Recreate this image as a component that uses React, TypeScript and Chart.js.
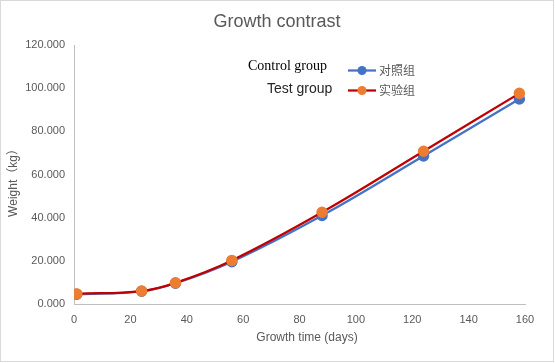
import React, { useEffect, useRef } from "react";
import { Chart, registerables } from "chart.js";

Chart.register(...registerables);

const chartTitle = "Growth contrast";
const xAxisTitle = "Growth time (days)";
const yAxisTitle = "Weight（kg）";
const days = [1, 24, 36, 56, 88, 124, 158];
const controlValues = [4.5, 5.9, 9.6, 19.6, 41.0, 68.6, 95.0];
const testValues = [4.7, 6.0, 9.8, 20.2, 42.5, 70.8, 97.6];
const controlName = "对照组";
const testName = "实验组";
const controlNote = "Control group";
const testNote = "Test group";
const xTicks = [0, 20, 40, 60, 80, 100, 120, 140, 160];
const yTicks = [0, 20, 40, 60, 80, 100, 120];

const BLUE = "#4472C4";
const RED = "#C00000";
const ORANGE = "#ED7D31";
const GRAY = "#595959";

const decorPlugin = {
  id: "decor",
  afterDraw(chart: any) {
    const ctx = chart.ctx;
    ctx.save();
    // outer border
    ctx.strokeStyle = "#d9d9d9";
    ctx.lineWidth = 1;
    ctx.strokeRect(0.5, 0.5, 553, 361);
    // title
    ctx.fillStyle = GRAY;
    ctx.font = "18px 'Liberation Sans', Arial, sans-serif";
    ctx.textAlign = "center";
    ctx.textBaseline = "middle";
    ctx.fillText(chartTitle, 277, 22);
    // x axis title
    ctx.font = "12px 'Liberation Sans', Arial, sans-serif";
    ctx.fillText(xAxisTitle, 307, 338);
    // y axis title
    ctx.save();
    ctx.translate(14, 180);
    ctx.rotate(-Math.PI / 2);
    ctx.font = "12px 'Liberation Sans', 'Noto Sans CJK SC', sans-serif";
    ctx.fillText(yAxisTitle, 0, 0);
    ctx.restore();
    // legend notes
    ctx.textAlign = "left";
    ctx.fillStyle = "#000000";
    ctx.font = "14px 'Liberation Serif', 'Times New Roman', serif";
    ctx.fillText(controlNote, 248, 66);
    ctx.fillStyle = "#262626";
    ctx.font = "14px 'Liberation Sans', Arial, sans-serif";
    ctx.fillText(testNote, 267, 89);
    // legend entries
    const entries = [
      { name: controlName, line: BLUE, dot: BLUE, y: 70.5 },
      { name: testName, line: RED, dot: ORANGE, y: 90.5 },
    ];
    for (const e of entries) {
      ctx.strokeStyle = e.line;
      ctx.lineWidth = 2.25;
      ctx.beginPath();
      ctx.moveTo(348, e.y);
      ctx.lineTo(376, e.y);
      ctx.stroke();
      ctx.fillStyle = e.dot;
      ctx.beginPath();
      ctx.arc(362, e.y, 4.5, 0, Math.PI * 2);
      ctx.fill();
      ctx.fillStyle = GRAY;
      ctx.font = "12px 'Noto Sans CJK SC', sans-serif";
      ctx.fillText(e.name, 379, e.y);
    }
    ctx.restore();
  },
};

export default function App() {
  const ref = useRef<HTMLCanvasElement>(null);
  useEffect(() => {
    if (!ref.current) return;
    const chart = new Chart(ref.current, {
      type: "line",
      data: {
        datasets: [
          {
            label: controlName,
            data: days.map((d, i) => ({ x: d, y: controlValues[i] })),
            borderColor: BLUE,
            backgroundColor: BLUE,
            pointBackgroundColor: BLUE,
            pointBorderColor: BLUE,
            pointRadius: 4.6,
            borderWidth: 2.25,
            tension: 0.4,
            order: 2,
          },
          {
            label: testName,
            data: days.map((d, i) => ({ x: d, y: testValues[i] })),
            borderColor: RED,
            backgroundColor: ORANGE,
            pointBackgroundColor: ORANGE,
            pointBorderColor: ORANGE,
            pointRadius: 4.6,
            borderWidth: 2.25,
            tension: 0.4,
            order: 1,
          },
        ],
      },
      options: {
        responsive: false,
        animation: false,
        devicePixelRatio: 1,
        layout: { padding: { top: 45, right: 30, left: 0, bottom: 0 } },
        plugins: { legend: { display: false }, title: { display: false }, tooltip: { enabled: false } },
        scales: {
          x: {
            type: "linear",
            min: 0,
            max: 160,
            afterBuildTicks: (s: any) => {
              s.ticks = xTicks.map((v) => ({ value: v }));
            },
            afterFit: (s: any) => {
              s.height = 59;
            },
            grid: { display: false, drawTicks: false },
            border: { display: true, color: "#bfbfbf", width: 1 },
            ticks: {
              padding: 9,
              color: GRAY,
              font: { family: "'Liberation Sans', Arial, sans-serif", size: 11 },
            },
          },
          y: {
            type: "linear",
            min: 0,
            max: 120,
            afterBuildTicks: (s: any) => {
              s.ticks = yTicks.map((v) => ({ value: v }));
            },
            afterFit: (s: any) => {
              s.width = 74;
            },
            grid: { display: false, drawTicks: false },
            border: { display: true, color: "#bfbfbf", width: 1 },
            ticks: {
              padding: 9,
              color: GRAY,
              font: { family: "'Liberation Sans', Arial, sans-serif", size: 11 },
              callback: (v: any) => Number(v).toFixed(3),
            },
          },
        },
      },
      plugins: [decorPlugin],
    } as any);
    return () => chart.destroy();
  }, []);
  return (
    <div style={{ position: "absolute", left: 0, top: 0, width: 555, height: 363, background: "#fff" }}>
      <canvas ref={ref} width={555} height={363} style={{ display: "block" }} />
    </div>
  );
}
